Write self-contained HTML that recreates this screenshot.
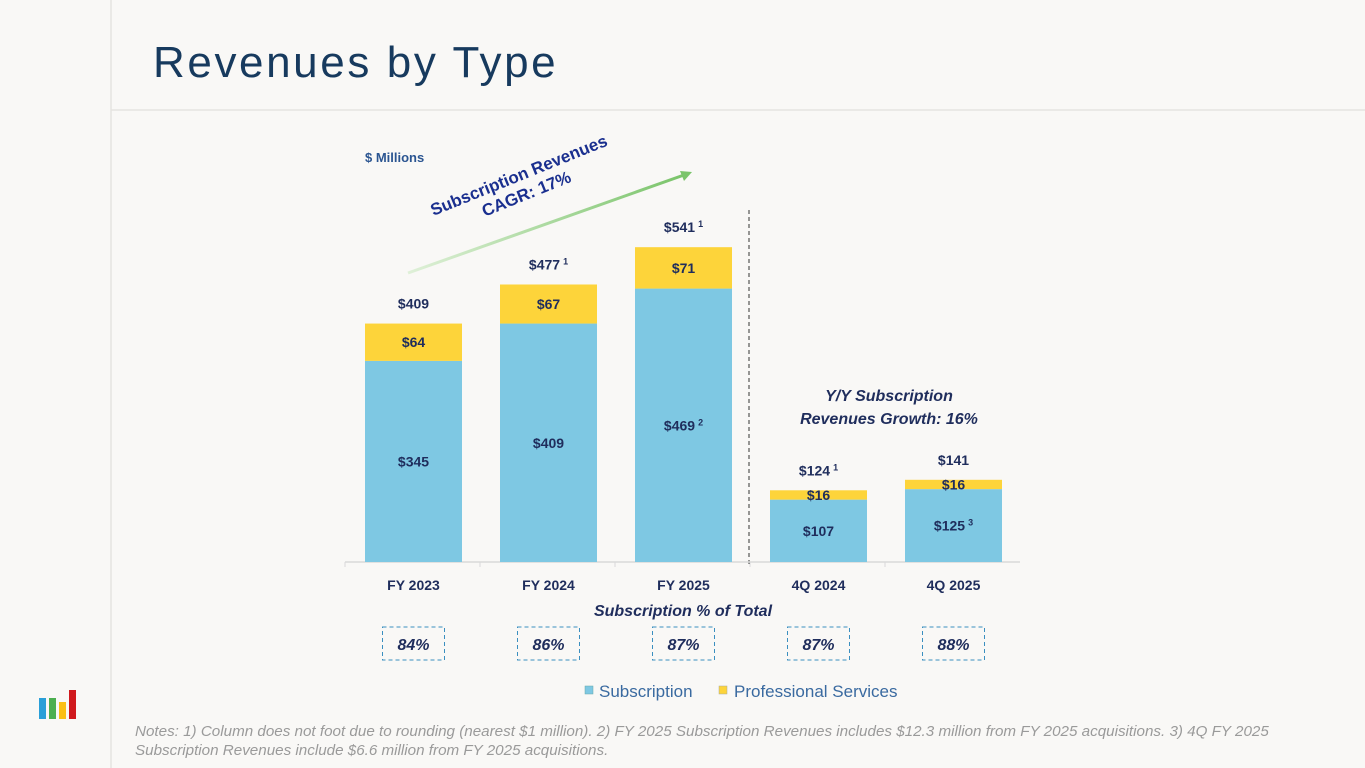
<!DOCTYPE html>
<html><head><meta charset="utf-8"><style>
body{margin:0;background:#f9f8f6;}
#page{position:relative;width:1365px;height:768px;overflow:hidden;background:#f9f8f6;font-family:"Liberation Sans",sans-serif;}
svg text{font-family:"Liberation Sans",sans-serif;}
</style></head><body>
<div id="page">
<svg id="chart" width="1365" height="768">
  <line x1="111" y1="0" x2="111" y2="768" stroke="#e6e4e0" stroke-width="1.5"/>
  <line x1="111" y1="110" x2="1365" y2="110" stroke="#e6e4e0" stroke-width="1.5"/>
  <text x="153" y="77" font-size="44" fill="#173a5e" letter-spacing="2.6">Revenues by Type</text>
  <text x="365" y="162" font-size="13" font-weight="bold" fill="#2b5591">$ Millions</text>
  <defs><linearGradient id="ag" x1="0" x2="1"><stop offset="0" stop-color="#dff0d8"/><stop offset="1" stop-color="#7ac46a"/></linearGradient></defs>
  <line x1="408" y1="273" x2="684" y2="175" stroke="url(#ag)" stroke-width="3"/>
  <polygon points="692,172 680,171 684,181" fill="#7ac46a"/>
  <g transform="translate(524,188) rotate(-22)">
    <text x="0" y="-8" font-size="17" font-weight="bold" fill="#1a2f8f" text-anchor="middle">Subscription Revenues</text>
    <text x="0" y="12" font-size="17" font-weight="bold" fill="#1a2f8f" text-anchor="middle">CAGR:  17%</text>
  </g>
  <line x1="749" y1="210" x2="749" y2="567" stroke="#333" stroke-width="1" stroke-dasharray="4,3"/>
  <text x="889" y="401" font-size="16" font-weight="bold" font-style="italic" fill="#1f2d5c" text-anchor="middle">Y/Y Subscription</text>
  <text x="889" y="424" font-size="16" font-weight="bold" font-style="italic" fill="#1f2d5c" text-anchor="middle">Revenues Growth: 16%</text>
  <line x1="345" y1="562" x2="1020" y2="562" stroke="#d9d9d9" stroke-width="1.5"/>
  <text x="683" y="616" font-size="16" font-weight="bold" font-style="italic" fill="#1f2d5c" text-anchor="middle">Subscription % of Total</text>
  <g id="bars"></g>
  <rect x="585" y="686" width="8" height="8" fill="#7ec8e3" stroke="#6aa" stroke-width="0.5"/>
  <text x="599" y="697" font-size="17" fill="#3a6aa0">Subscription</text>
  <rect x="719" y="686" width="8" height="8" fill="#fdd43a" stroke="#aa9" stroke-width="0.5"/>
  <text x="734" y="697" font-size="17" fill="#3a6aa0">Professional Services</text>
  <g>
    <rect x="39" y="698" width="7" height="21" fill="#2a9fd8"/>
    <rect x="49" y="698" width="7" height="21" fill="#4caf50"/>
    <rect x="59" y="702" width="7" height="17" fill="#fbbf16"/>
    <rect x="69" y="690" width="7" height="29" fill="#d0191d"/>
  </g>
  <text x="135" y="736" font-size="15.2" font-style="italic" fill="#9a9a9a">Notes: 1) Column does not foot due to rounding (nearest $1 million). 2) FY 2025 Subscription Revenues includes $12.3 million from FY 2025 acquisitions. 3) 4Q FY 2025</text>
  <text x="135" y="755" font-size="15.2" font-style="italic" fill="#9a9a9a">Subscription Revenues include $6.6 million from FY 2025 acquisitions.</text>
</svg>
</div>
<script>
const categories=["FY 2023","FY 2024","FY 2025","4Q 2024","4Q 2025"];
const subscription=[345,409,469,107,125];
const services=[64,67,71,16,16];
const totals=[409,477,541,124,141];
const totalSup=["","1","1","1",""];
const subSup=["","","2","","3"];
const pctOfTotal=["84%","86%","87%","87%","88%"];
const NS="http://www.w3.org/2000/svg";
const g=document.getElementById("bars");
const base=562, k=0.583, x0=365, step=135, bw=97;
const xPos=i=>x0+i*step;
const yPos=v=>base-v*k;
function mk(t,a){const e=document.createElementNS(NS,t);for(const n in a)e.setAttribute(n,a[n]);g.appendChild(e);return e;}
function txt(x,y,s,sup,size){const e=mk("text",{x:x,y:y,"font-size":size||14,"font-weight":"bold",fill:"#1f2d5c","text-anchor":"middle"});e.textContent=s;if(sup){const t=document.createElementNS(NS,"tspan");t.setAttribute("font-size","9");t.setAttribute("dy","-5");t.setAttribute("dx","3");t.textContent=sup;e.appendChild(t);}return e;}
categories.forEach((c,i)=>{
  const x=xPos(i),cx=x+bw/2;
  const ys=yPos(subscription[i]), yt=yPos(subscription[i]+services[i]);
  let r=mk("rect",{x:x,y:ys,width:bw,height:base-ys,fill:"#7ec8e3"});
  
  
  r=mk("rect",{x:x,y:yt,width:bw,height:ys-yt,fill:"#fdd43a"});
  
  
  let t=txt(cx,(ys+base)/2+5,"$"+subscription[i],subSup[i]);
  
  
  t=txt(cx,(yt+ys)/2+5,"$"+services[i]);
  
  
  t=txt(cx,yt-15,"$"+totals[i],totalSup[i]);
  
  
  t=txt(cx,590,c);
  
  
  const tk=mk("line",{x1:x-20,y1:562,x2:x-20,y2:567,stroke:"#d9d9d9"});
  
  
  const bx=mk("rect",{x:cx-31,y:627,width:62,height:33,fill:"none",stroke:"#3a8fc0","stroke-dasharray":"4,3"});
  
  
  const p=mk("text",{x:cx,y:650,"font-size":16,"font-weight":"bold","font-style":"italic",fill:"#1f2d5c","text-anchor":"middle"});
  p.textContent=pctOfTotal[i];
  
  
});
</script>
</body></html>
